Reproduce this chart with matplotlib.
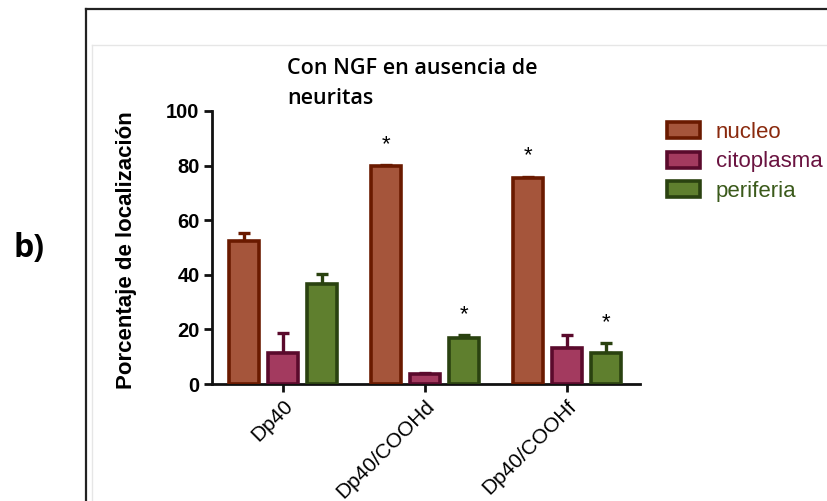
import numpy as np
import matplotlib
matplotlib.use('Agg')
import matplotlib.pyplot as plt
from matplotlib.patches import Patch
from matplotlib.lines import Line2D

plt.rcParams['font.family'] = ['Liberation Sans', 'DejaVu Sans']

grupos = ['Dp40', 'Dp40/COOHd', 'Dp40/COOHf']
series = ['nucleo', 'citoplasma', 'periferia']
nucleo = [52.5, 80.0, 75.5]
nucleo_err = [2.8, 0.3, 0.5]
citoplasma = [11.3, 3.7, 13.2]
citoplasma_err = [7.4, 0.4, 4.9]
periferia = [36.6, 17.0, 11.2]
periferia_err = [3.7, 0.9, 3.9]
# asteriscos de significancia: (grupo, serie)
signif = [(1, 0), (1, 2), (2, 0), (2, 2)]

rellenos = ['#A5553B', '#A33A5F', '#5F7F2E']
bordes = ['#6A1A00', '#5A0A2C', '#2A4210']
textos = ['#8A2A0E', '#6A1340', '#3B5A1B']

fig = plt.figure(figsize=(8.27, 5.01), dpi=100)

# marco exterior y panel interior
fig.add_artist(Line2D([86/827, 1.0], [1-9/501, 1-9/501], color='#222222', lw=1.6))
fig.add_artist(Line2D([86/827, 86/827], [0, 1-9/501], color='#222222', lw=1.6))
fig.add_artist(Line2D([92/827, 1.0], [1-45/501, 1-45/501], color='#e6e6e6', lw=1.0))
fig.add_artist(Line2D([92/827, 92/827], [0, 1-45/501], color='#e6e6e6', lw=1.0))

fig.text(14/827, 1-248/501, 'b)', fontsize=23, fontweight='bold',
         family=['Open Sans', 'DejaVu Sans'], va='center', ha='left')

ax = fig.add_axes([212/827, 1-384/501, 428/827, 273/501])

x = np.arange(len(grupos))
ancho = 0.21
paso = 0.275
valores = [nucleo, citoplasma, periferia]
errores = [nucleo_err, citoplasma_err, periferia_err]
for i in range(3):
    pos = x + (i-1)*paso
    ax.bar(pos, valores[i], ancho, color=rellenos[i], edgecolor=bordes[i],
           linewidth=2.6, label=series[i], zorder=3)
    ax.errorbar(pos, valores[i], yerr=[np.zeros(3), errores[i]], fmt='none',
                ecolor=bordes[i], elinewidth=2.4, capsize=4.5, capthick=2.4, zorder=2)

for g, s in signif:
    tope = valores[s][g] + errores[s][g]
    ax.text(x[g] + (s-1)*paso, tope + 7.5, '*', ha='center', va='center', fontsize=16)

ax.set_xlim(-0.5, 2.514)
ax.set_ylim(0, 100)
ax.set_yticks([0, 20, 40, 60, 80, 100])
ax.set_xticks(x)
ax.set_xticklabels(grupos, rotation=45, ha='right', rotation_mode='anchor',
                   fontsize=15)
for lbl in ax.get_yticklabels():
    lbl.set_fontweight('bold')
    lbl.set_fontsize(14.5)
ax.tick_params(axis='both', width=2, length=6, color='#111111')
ax.tick_params(axis='x', pad=3)
ax.tick_params(axis='y', pad=3)
for lado in ['top', 'right']:
    ax.spines[lado].set_visible(False)
for lado in ['left', 'bottom']:
    ax.spines[lado].set_linewidth(2)
    ax.spines[lado].set_color('#111111')
ax.set_ylabel('Porcentaje de localización', fontsize=16, fontweight='bold')
ax.yaxis.set_label_coords(-0.175, 0.49)

fig.text(287/827, 1-69/501, 'Con NGF en ausencia de', fontsize=15.5, fontweight='semibold',
         family=['Open Sans', 'DejaVu Sans'], va='center', ha='left')
fig.text(287/827, 1-98/501, 'neuritas', fontsize=15.5, fontweight='semibold',
         family=['Open Sans', 'DejaVu Sans'], va='center', ha='left')

manejadores = [Patch(facecolor=rellenos[i], edgecolor=bordes[i], linewidth=2.6)
               for i in range(3)]
leg = fig.legend(manejadores, series, loc='upper left',
                 bbox_to_anchor=(667/827, 1-122/501), frameon=False, fontsize=16,
                 borderpad=0, borderaxespad=0,
                 handlelength=1.5, handleheight=0.75, labelspacing=0.38, handletextpad=0.7)
for t, c in zip(leg.get_texts(), textos):
    t.set_color(c)

fig.savefig('out.png', dpi=100)
